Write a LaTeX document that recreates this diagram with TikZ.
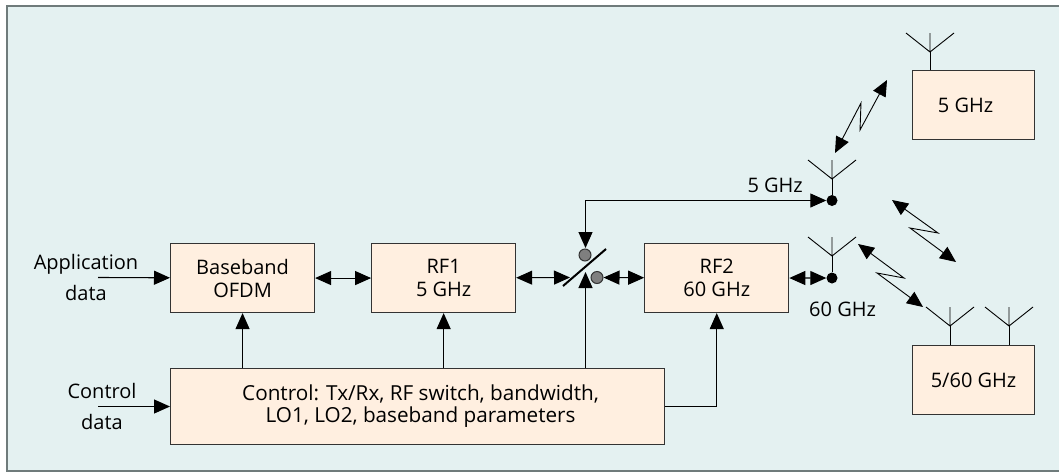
\documentclass[tikz,border=0pt]{standalone}
\usepackage{fontspec}
\setmainfont{Open Sans}
\usetikzlibrary{arrows.meta,positioning}
\definecolor{panelbg}{HTML}{E4F1F1}
\definecolor{panelline}{HTML}{6F7B7B}
\definecolor{boxbg}{HTML}{FFEFE0}
\definecolor{contactbg}{HTML}{7F7F7F}

\begin{document}
\begin{tikzpicture}[
  x=1pt, y=-1pt,
  box/.style={draw=black!80, fill=boxbg, line width=1.1pt, align=center, inner sep=0pt, minimum width=144pt, minimum height=69pt, font=\fontsize{20}{23}\selectfont},
  lbl/.style={align=center, inner sep=0pt, font=\fontsize{20}{23}\selectfont},
  arr/.style={-{Triangle[length=16pt,width=14pt]}, line width=1.1pt},
  dblarr/.style={{Triangle[length=16pt,width=14pt]}-{Triangle[length=16pt,width=14pt]}, line width=1.1pt},
  contact/.style={circle, draw=black!80, fill=contactbg, line width=1pt, minimum size=12pt, inner sep=0pt},
  feed/.style={circle, fill=black, minimum size=11pt, inner sep=0pt},
  antenna/.pic={\draw[line width=0.9pt] (-24,-19) -- (0,0) -- (24,-19) (0,-19) -- (0,0);},
  node distance=56pt
]
\useasboundingbox (0,0) rectangle (1059,472);
\draw[panelline, fill=panelbg, line width=2pt] (7,6) rectangle (1061,471);

% transmitter chain
\node[box, anchor=north west] (base) at (170,243) {Baseband\\OFDM};
\node[box, right=of base] (rf1) {RF1\\5 GHz};
\node[box, right=128pt of rf1] (rf2) {RF2\\60 GHz};
\node[box, anchor=north west, minimum width=494pt, minimum height=76pt, font=\fontsize{20.7}{22}\selectfont] (ctrl) at (170,368) {\hspace*{6pt}Control: Tx/Rx, RF switch, bandwidth,\\\hspace*{6pt}LO1, LO2, baseband parameters};

\node[lbl] (appl) at (86,277.5) {Application\\[8pt]data};
\node[lbl] (ctrldata) at (102,406.5) {Control\\[8pt]data};
\coordinate (applin) at (98,277.5);
\coordinate (ctrlin) at (98,406.5);
\draw[arr] (applin) -- (base);
\draw[arr] (ctrlin) -- (ctrl.west |- ctrlin);
\draw[dblarr] (base) -- (rf1);

% switch
\node[contact] (sw1) at (585,255) {};
\node[contact] (sw2) at (597,277.5) {};
\coordinate (swa) at (563,286);
\coordinate (swb) at (606,249);
\coordinate (swin) at (570,277.5);
\coordinate (swtop) at (585.5,248);
\coordinate (swup) at (585.5,272);
\draw[line width=2pt] (swa) -- (swb);
\draw[dblarr] (rf1) -- (swin);
\draw[dblarr] (sw2) -- (rf2);

% antennas at the device
\node[feed] (feed5) at (832,200.5) {};
\node[feed] (feed60) at (832,278) {};
\coordinate (ant5) at (832,179);
\coordinate (ant60) at (832,256);
\pic at (ant5) {antenna};
\pic at (ant60) {antenna};
\draw[line width=0.9pt] (ant5) -- (feed5);
\draw[line width=0.9pt] (ant60) -- (feed60);
\draw[dblarr] (swtop) |- (feed5);
\draw[dblarr] (rf2) -- (feed60);
\node[lbl, anchor=east] (lbl5) at (803,185) {5 GHz};
\node[lbl, anchor=west] (lbl60) at (809,309) {60 GHz};

% control lines
\draw[arr] (ctrl.north -| base) -- (base);
\draw[arr] (ctrl.north -| rf1) -- (rf1);
\draw[arr] (ctrl.north -| swup) -- (swup);
\draw[arr] (ctrl.east |- 0,406.5) -| (rf2);

% remote stations
\node[box, anchor=north west, minimum width=122pt] (rx5) at (912,70) {5 GHz\hspace*{16pt}};
\node[box, anchor=north west, minimum width=122pt] (rx560) at (912,345) {5/60 GHz};
\coordinate (anta) at (930,52);
\coordinate (antb) at (950,326);
\coordinate (antc) at (1009,326);
\foreach \a/\b in {anta/rx5, antb/rx560, antc/rx560} {
  \pic at (\a) {antenna};
  \draw[line width=0.9pt] (\a) -- (\a |- \b.north);
}

% radio links
\coordinate (linka) at (835,153);
\coordinate (linkb) at (887,80);
\coordinate (linkc) at (892,200);
\coordinate (linkd) at (956,262);
\coordinate (linke) at (858,244);
\coordinate (linkf) at (923,307);
\draw[dblarr, line width=0.9pt] (linka) -- (861,103) -- (860,130) -- (linkb);
\draw[dblarr, line width=0.9pt] (linkc) -- (938,233) -- (910,228) -- (linkd);
\draw[dblarr, line width=0.9pt] (linke) -- (904,278) -- (877,273) -- (linkf);
\end{tikzpicture}
\end{document}
